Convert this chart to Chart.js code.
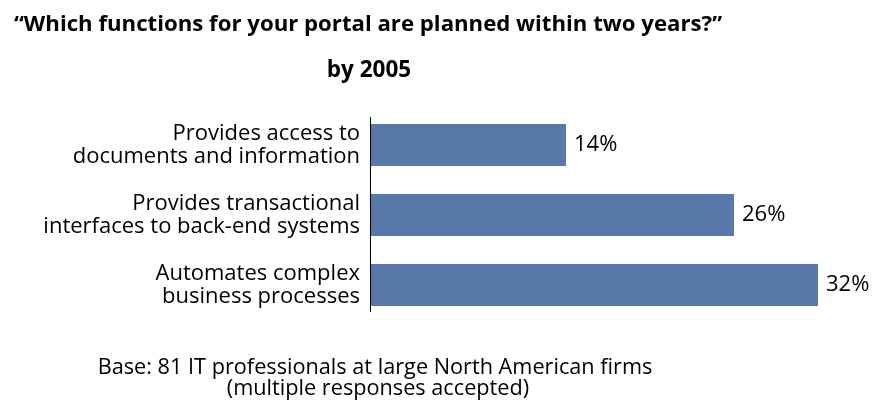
<!DOCTYPE html>
<html>
<head>
<meta charset="utf-8">
<script src="https://cdn.jsdelivr.net/npm/chart.js@4/dist/chart.umd.min.js"></script>
<style>
  html, body { margin: 0; padding: 0; background: #fff; }
  #wrap { width: 875px; height: 404px; position: relative; }
</style>
</head>
<body>
<div id="wrap"><canvas id="portalChart" width="875" height="404"></canvas></div>
<script>
// portal functions planned within two years
const categories = [
    ['Provides access to', 'documents and information'],
    ['Provides transactional', 'interfaces to back-end systems'],
    ['Automates complex', 'business processes']
];
const percentValues = [14, 26, 32];
const axisMax = 36;

const titleText = '\u201CWhich functions for your portal are planned within two years?\u201D';
const subtitleText = 'by 2005';
const footerLines = [
    'Base: 81 IT professionals at large North American firms',
    '(multiple responses accepted)'
];

const FONT = '"Open Sans", "Noto Sans", sans-serif';

// titles, footer, axis line and value labels
const decorations = {
    id: 'decorations',
    afterDraw(chart) {
        const ctx = chart.ctx;
        const area = chart.chartArea;
        ctx.save();

        ctx.fillStyle = '#000';
        ctx.textBaseline = 'middle';
        ctx.font = 'bold 22.2px ' + FONT;
        ctx.textAlign = 'left';
        ctx.fillText(titleText, 14, 25);
        ctx.textAlign = 'center';
        ctx.font = 'bold 22.5px ' + FONT;
        ctx.fillText(subtitleText, 369, 71);

        ctx.font = '21.7px ' + FONT;
        ctx.fillText(footerLines[0], 375, 368);
        ctx.fillText(footerLines[1], 378, 389);

        // vertical axis line
        ctx.strokeStyle = '#000';
        ctx.lineWidth = 1;
        ctx.beginPath();
        ctx.moveTo(area.left + 0.5, area.top + 7);
        ctx.lineTo(area.left + 0.5, area.bottom - 8);
        ctx.stroke();

        // value labels at bar ends
        ctx.font = '22px ' + FONT;
        ctx.textAlign = 'left';
        const meta = chart.getDatasetMeta(0);
        meta.data.forEach((bar, i) => {
            ctx.fillText(percentValues[i] + '%', bar.x + 8, bar.y);
        });
        ctx.restore();
    }
};

new Chart(document.getElementById('portalChart'), {
    type: 'bar',
    data: {
        labels: categories,
        datasets: [{
            data: percentValues,
            backgroundColor: '#5779A9',
            borderWidth: 0,
            categoryPercentage: 0.6,
            barPercentage: 1.0
        }]
    },
    options: {
        indexAxis: 'y',
        responsive: false,
        animation: false,
        layout: {
            padding: { top: 110, bottom: 84, left: 0, right: 1 }
        },
        plugins: {
            legend: { display: false },
            tooltip: { enabled: false }
        },
        scales: {
            x: {
                display: false,
                min: 0,
                max: axisMax
            },
            y: {
                grid: { display: false, drawTicks: false },
                border: { display: false },
                afterFit(scale) { scale.width = 370; },
                ticks: {
                    color: '#000',
                    padding: 10,
                    font: { family: FONT, size: 22, lineHeight: 1.05 }
                }
            }
        }
    },
    plugins: [decorations]
});
</script>
</body>
</html>
